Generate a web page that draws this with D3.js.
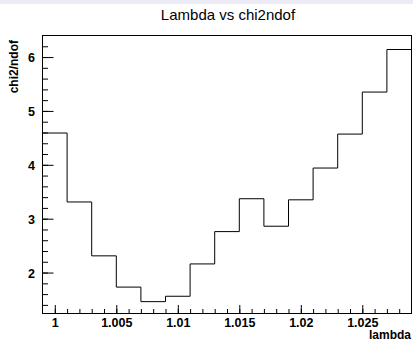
<!DOCTYPE html>
<html>
<head>
<meta charset="utf-8">
<script src="https://cdn.jsdelivr.net/npm/d3@7"></script>
<style>
  body { margin: 0; background: #fff; }
  text { font-family: "Liberation Sans", Arial, Helvetica, sans-serif; }
</style>
</head>
<body>
<div id="chart"></div>
<script>
// bin low edges (bin width 0.002) and the chi2/ndof per bin
const binEdges = [0.999, 1.001, 1.003, 1.005, 1.007, 1.009, 1.011, 1.013, 1.015, 1.017, 1.019, 1.021, 1.023, 1.025, 1.027, 1.029];
const chi2Values = [4.59, 3.31, 2.31, 1.73, 1.46, 1.56, 2.16, 2.76, 3.37, 2.86, 3.35, 3.94, 4.57, 5.35, 6.14];
const xTicks = [1, 1.005, 1.01, 1.015, 1.02, 1.025];
const yTicks = [2, 3, 4, 5, 6];
const xDomain = [0.999, 1.029];
const yDomain = [1.24, 6.4];

function drawHistogram() {
  const width = 413;
  const height = 342;
  const frame = { left: 42.5, right: 411.5, top: 35.5, bottom: 313.5 };
  const labelSize = '12.5px';

  const svg = d3.select('#chart').append('svg')
      .attr('width', width)
      .attr('height', height);

  svg.append('rect')
      .attr('width', width).attr('height', height)
      .attr('fill', '#fff');
  // light strip along the top of the canvas
  svg.append('rect')
      .attr('width', width).attr('height', 4)
      .attr('fill', '#ececf6');

  const x = d3.scaleLinear(xDomain, [frame.left, frame.right]);
  const y = d3.scaleLinear(yDomain, [frame.bottom, frame.top]);

  // minor ticks, kept inside the frame
  const xMinor = d3.range(0, 31).map(i => +(0.999 + i * 0.001).toFixed(3))
      .filter(v => v > xDomain[0] && v < xDomain[1]);
  const yMinor = d3.range(0, 26).map(i => +(1.4 + i * 0.2).toFixed(1))
      .filter(v => v > yDomain[0] && v < yDomain[1]);

  svg.append('g')
      .attr('transform', `translate(0, ${frame.bottom})`)
      .call(d3.axisBottom(x).tickValues(xMinor).tickSize(-4.5).tickFormat(''))
      .call(g => g.select('.domain').remove());
  svg.append('g')
      .attr('transform', `translate(${frame.left}, 0)`)
      .call(d3.axisLeft(y).tickValues(yMinor).tickSize(-5.5).tickFormat(''))
      .call(g => g.select('.domain').remove());

  // major ticks and labels
  const xAxis = svg.append('g')
      .attr('transform', `translate(0, ${frame.bottom})`)
      .call(d3.axisBottom(x).tickValues(xTicks).tickSize(-8.5).tickFormat(d => d3.format('')(d)));
  const yAxis = svg.append('g')
      .attr('transform', `translate(${frame.left}, 0)`)
      .call(d3.axisLeft(y).tickValues(yTicks).tickSize(-11).tickPadding(7.5).tickFormat(d3.format('d')));

  [xAxis, yAxis].forEach(g => {
    g.select('.domain').remove();
    g.selectAll('text')
        .attr('fill', '#000')
        .style('font-family', '"Liberation Sans", Arial, sans-serif')
        .style('font-size', labelSize)
        .style('font-weight', 'bold');
  });
  xAxis.selectAll('text').attr('y', 13.5).attr('dy', 0);
  yAxis.selectAll('text').attr('dy', '0.36em');
  svg.selectAll('.tick line').attr('stroke', '#000');

  // frame
  svg.append('rect')
      .attr('x', frame.left).attr('y', frame.top)
      .attr('width', frame.right - frame.left)
      .attr('height', frame.bottom - frame.top)
      .attr('fill', 'none')
      .attr('stroke', '#000')
      .attr('stroke-width', 1);

  // step histogram
  const line = d3.line().curve(d3.curveStepAfter);
  const pts = chi2Values.map((v, i) => [x(binEdges[i]), y(v)]);
  pts.push([x(binEdges[binEdges.length - 1]), y(chi2Values[chi2Values.length - 1])]);
  svg.append('path')
      .attr('d', line(pts))
      .attr('fill', 'none')
      .attr('stroke', '#000')
      .attr('stroke-width', 1);

  // titles
  svg.append('text')
      .attr('x', 228).attr('y', 20)
      .attr('text-anchor', 'middle')
      .style('font-size', '15px')
      .text('Lambda vs chi2ndof');

  svg.append('text')
      .attr('x', 411).attr('y', 338.5)
      .attr('text-anchor', 'end')
      .style('font-size', '12px')
      .style('font-weight', 'bold')
      .text('lambda');

  svg.append('text')
      .attr('transform', 'translate(18, 40) rotate(-90)')
      .attr('text-anchor', 'end')
      .style('font-size', '12px')
      .style('font-weight', 'bold')
      .text('chi2/ndof');
}

displayChart();
function displayChart() { drawHistogram(); }
</script>
</body>
</html>
